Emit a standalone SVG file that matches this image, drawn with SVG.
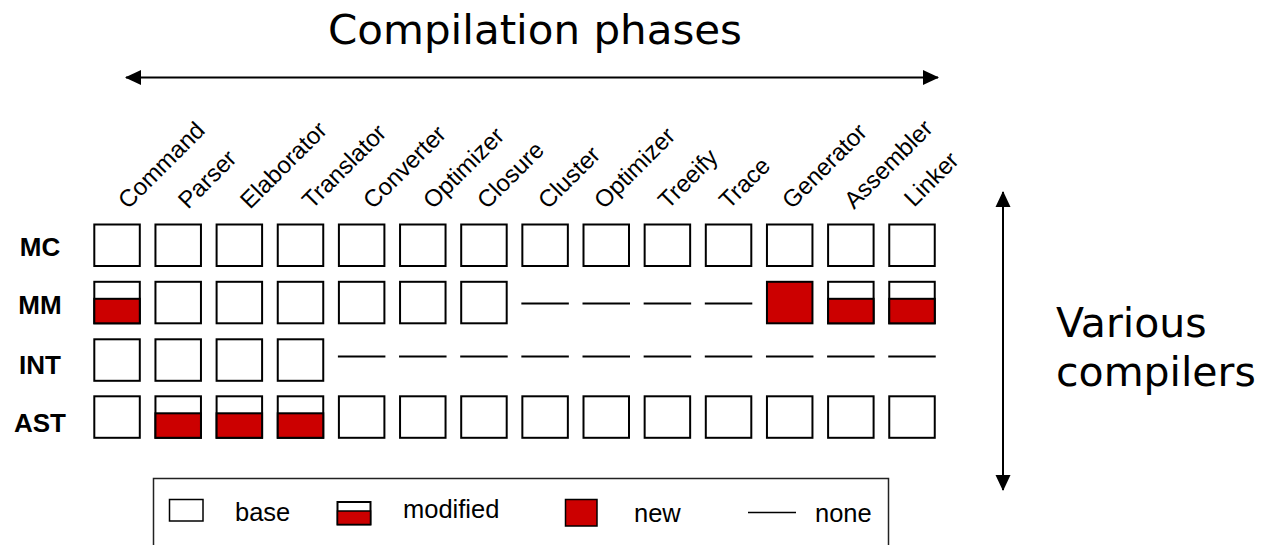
<svg xmlns="http://www.w3.org/2000/svg" xmlns:xlink="http://www.w3.org/1999/xlink" width="1265" height="545" viewBox="0 0 1265 545">
<style>
.bx{fill:#fff;stroke:#000;stroke-width:2}
.rd{fill:#cc0000;stroke:#000;stroke-width:2}
.no{stroke:#000;stroke-width:2}
.col{font-family:"Liberation Sans",Arial,sans-serif;font-size:24px;fill:#000}
.row{font-family:"Liberation Sans",Arial,sans-serif;font-size:26px;font-weight:bold;fill:#000;text-anchor:middle}
.big{font-family:"DejaVu Sans",Verdana,sans-serif;font-size:41px;fill:#000}
.leg{font-family:"Liberation Sans",Arial,sans-serif;font-size:25.5px;fill:#000}
.ax{stroke:#000;stroke-width:2;fill:none}
</style>
<defs>
<g id="base"><rect class="bx" x="0" y="0" width="45.5" height="41.5"/></g>
<g id="mod"><rect class="bx" x="0" y="0" width="45.5" height="41.5"/><rect class="rd" x="0" y="17" width="45.5" height="24.5"/></g>
<g id="new"><rect class="rd" x="0" y="0" width="45.5" height="41.5"/></g>
<g id="none"><line class="no" x1="-1" y1="0" x2="46.5" y2="0"/></g>
<marker id="ah" viewBox="0 0 16 16" refX="15" refY="8" markerWidth="16" markerHeight="16" markerUnits="userSpaceOnUse" orient="auto-start-reverse"><path d="M0,0.5 L16,8 L0,15.5 Z" fill="#000"/></marker>
</defs>
<rect width="1265" height="545" fill="#fff"/>

<g id="title"><text class="big" x="535" y="44" text-anchor="middle" font-size="40" textLength="414" lengthAdjust="spacingAndGlyphs">Compilation phases</text></g>
<g id="side-label"><text class="big" x="1056" y="337">Various</text><text class="big" x="1056" y="386">compilers</text></g>

<g id="connectors">
<line class="ax" x1="126" y1="77.5" x2="938" y2="77.5" marker-start="url(#ah)" marker-end="url(#ah)"/>
<line class="ax" x1="1003" y1="192" x2="1003" y2="490" marker-start="url(#ah)" marker-end="url(#ah)"/>
</g>

<g id="phase-labels">
<text class="col" transform="translate(128,210) rotate(-45)">Command</text>
<text class="col" transform="translate(188,210) rotate(-45)">Parser</text>
<text class="col" transform="translate(250,210) rotate(-45)">Elaborator</text>
<text class="col" transform="translate(312,210) rotate(-45)">Translator</text>
<text class="col" transform="translate(373,210) rotate(-45)">Converter</text>
<text class="col" transform="translate(433,210) rotate(-45)">Optimizer</text>
<text class="col" transform="translate(487,210) rotate(-45)">Closure</text>
<text class="col" transform="translate(548,210) rotate(-45)">Cluster</text>
<text class="col" transform="translate(604,210) rotate(-45)">Optimizer</text>
<text class="col" transform="translate(668,210) rotate(-45)">Treeify</text>
<text class="col" transform="translate(729,210) rotate(-45)">Trace</text>
<text class="col" transform="translate(792,210) rotate(-45)">Generator</text>
<text class="col" transform="translate(854,210) rotate(-45)">Assembler</text>
<text class="col" transform="translate(914,208) rotate(-45)">Linker</text>
</g>

<g id="row-labels">
<text class="row" x="40" y="256">MC</text>
<text class="row" x="40" y="314">MM</text>
<text class="row" x="40" y="374">INT</text>
<text class="row" x="40" y="432">AST</text>
</g>

<g id="row-MC">
<use href="#base" x="94.3" y="224.5"/><use href="#base" x="155.45" y="224.5"/><use href="#base" x="216.6" y="224.5"/><use href="#base" x="277.75" y="224.5"/><use href="#base" x="338.9" y="224.5"/><use href="#base" x="400.05" y="224.5"/><use href="#base" x="461.2" y="224.5"/><use href="#base" x="522.35" y="224.5"/><use href="#base" x="583.5" y="224.5"/><use href="#base" x="644.65" y="224.5"/><use href="#base" x="705.8" y="224.5"/><use href="#base" x="766.95" y="224.5"/><use href="#base" x="828.1" y="224.5"/><use href="#base" x="889.25" y="224.5"/>
</g>
<g id="row-MM">
<use href="#mod" x="94.3" y="281.8"/><use href="#base" x="155.45" y="281.8"/><use href="#base" x="216.6" y="281.8"/><use href="#base" x="277.75" y="281.8"/><use href="#base" x="338.9" y="281.8"/><use href="#base" x="400.05" y="281.8"/><use href="#base" x="461.2" y="281.8"/><use href="#none" x="522.35" y="303.5"/><use href="#none" x="583.5" y="303.5"/><use href="#none" x="644.65" y="303.5"/><use href="#none" x="705.8" y="303.5"/><use href="#new" x="766.95" y="281.8"/><use href="#mod" x="828.1" y="281.8"/><use href="#mod" x="889.25" y="281.8"/>
</g>
<g id="row-INT">
<use href="#base" x="94.3" y="339.3"/><use href="#base" x="155.45" y="339.3"/><use href="#base" x="216.6" y="339.3"/><use href="#base" x="277.75" y="339.3"/><use href="#none" x="338.9" y="356.5"/><use href="#none" x="400.05" y="356.5"/><use href="#none" x="461.2" y="356.5"/><use href="#none" x="522.35" y="356.5"/><use href="#none" x="583.5" y="356.5"/><use href="#none" x="644.65" y="356.5"/><use href="#none" x="705.8" y="356.5"/><use href="#none" x="766.95" y="356.5"/><use href="#none" x="828.1" y="356.5"/><use href="#none" x="889.25" y="356.5"/>
</g>
<g id="row-AST">
<use href="#base" x="94.3" y="396.3"/><use href="#mod" x="155.45" y="396.3"/><use href="#mod" x="216.6" y="396.3"/><use href="#mod" x="277.75" y="396.3"/><use href="#base" x="338.9" y="396.3"/><use href="#base" x="400.05" y="396.3"/><use href="#base" x="461.2" y="396.3"/><use href="#base" x="522.35" y="396.3"/><use href="#base" x="583.5" y="396.3"/><use href="#base" x="644.65" y="396.3"/><use href="#base" x="705.8" y="396.3"/><use href="#base" x="766.95" y="396.3"/><use href="#base" x="828.1" y="396.3"/><use href="#base" x="889.25" y="396.3"/>
</g>

<g id="legend">
<rect x="153.5" y="478.5" width="735" height="90" fill="none" stroke="#222" stroke-width="1.5"/>
<rect x="169.5" y="499.5" width="33.5" height="21.5" fill="#fff" stroke="#000" stroke-width="1.5"/>
<text class="leg" x="235" y="521">base</text>
<rect x="337.5" y="502" width="33" height="22.5" fill="#fff" stroke="#000" stroke-width="2"/>
<rect x="337.5" y="511" width="33" height="13.5" fill="#cc0000" stroke="#000" stroke-width="1.5"/>
<text class="leg" x="403" y="518">modified</text>
<rect x="565.5" y="499.5" width="31.5" height="26.5" fill="#cc0000" stroke="#000" stroke-width="1.5"/>
<text class="leg" x="634" y="521.5">new</text>
<line x1="748" y1="512.5" x2="796" y2="512.5" stroke="#000" stroke-width="1.5"/>
<text class="leg" x="815" y="521.5">none</text>
</g>
</svg>
